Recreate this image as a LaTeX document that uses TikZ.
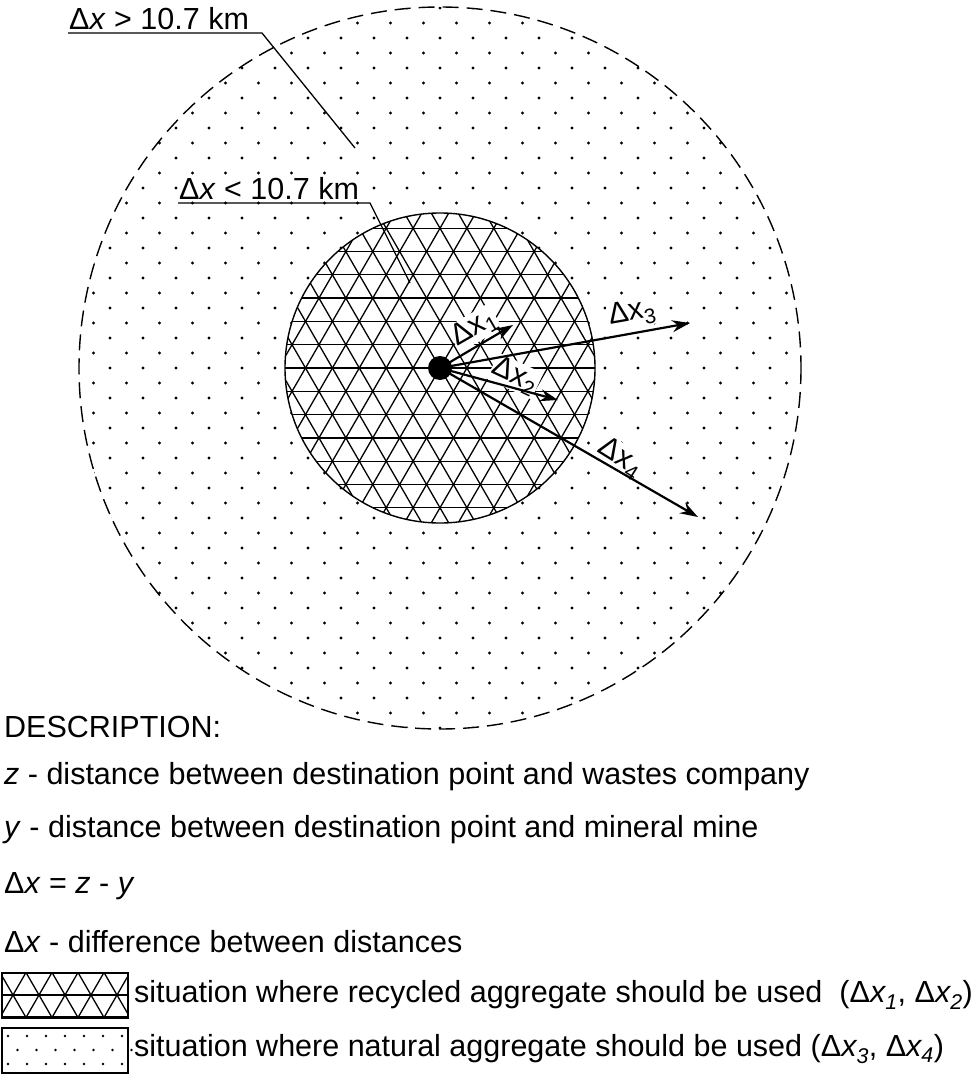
\documentclass[tikz,border=0pt]{standalone}
\usepackage{fontspec}
\setmainfont{Liberation Sans}
\usetikzlibrary{arrows.meta,calc}
\tikzset{
 lbl/.style={font=\fontsize{30.5}{34}\selectfont, inner sep=1pt},
 albl/.style={font=\fontsize{30}{34}\selectfont, inner sep=1pt},
 arr/.style={line width=2.2pt, -{Stealth[length=18pt,width=12pt,inset=6pt]}},
 hatchln/.style={line width=1.3pt},
 leader/.style={line width=1.3pt},
}
\begin{document}
\begin{tikzpicture}[x=1pt,y=-1pt]
\useasboundingbox (0,0) rectangle (972,1075);
% dots in outer circle
\begin{scope}
 \clip (440,368) circle (361);
 \foreach \r in {-24,...,24}{
  \pgfmathsetmacro{\off}{mod(abs(\r),2)*16.5}
  \foreach \c in {-12,...,12}{
   \fill (440+\c*33+\off,368+\r*15) circle (1.6);}}
\end{scope}
\draw[line width=1.4pt, dash pattern=on 16pt off 8pt] (440,368) circle (361);
% inner hatched circle
\fill[white] (440,368) circle (155);
\begin{scope}
 \clip (440,368) circle (155);
 \foreach \k in {-8,...,8}{\draw[hatchln] (280,368+\k*23.3) -- (600,368+\k*23.3);}
 \foreach \k in {-14,...,14}{
   \draw[hatchln] ($(440+\k*26.9,368)+(60:-220)$) -- ($(440+\k*26.9,368)+(60:220)$);
   \draw[hatchln] ($(440+\k*26.9,368)+(120:-220)$) -- ($(440+\k*26.9,368)+(120:220)$);}
\end{scope}
\draw[line width=1.4pt] (440,368) circle (155);
% leaders
\node[lbl, anchor=south west] (l1) at (68,31) {Δ\textit{x} > 10.7 km};
\draw[leader] (68,33) -- (262,33) -- (355,148);
\node[lbl, fill=white, anchor=south west] (l2) at (178,201) {Δ\textit{x} < 10.7 km};
\draw[leader] (178,203) -- (370,203) -- (410,283);
% arrows
\node[albl, fill=white, rotate=30] (a1) at (474,328) {Δx\textsubscript{1}};
\node[albl, fill=white, rotate=-25] (a2) at (515,376) {Δx\textsubscript{2}};
\node[albl, fill=white, rotate=10] (a3) at (632,313) {Δx\textsubscript{3}};
\node[albl, fill=white, rotate=-32] (a4) at (620,458) {Δx\textsubscript{4}};
\node[circle, fill=black, minimum size=24pt, inner sep=0] (c) at (440,368) {};
\coordinate (t1) at (513,325);
\coordinate (t2) at (558,400);
\coordinate (t3) at (690,323);
\coordinate (t4) at (698,517);
\draw[arr] (c.center) -- (t1);
\draw[arr] (c.center) -- (t2);
\draw[arr] (c.center) -- (t3);
\draw[arr] (c.center) -- (t4);
% description
\node[lbl, anchor=west] (d0) at (3,727) {DESCRIPTION:};
\node[lbl, anchor=west] (d1) at (3,777) {\textit{z} - distance between destination point and wastes company};
\node[lbl, anchor=west] (d2) at (3,830) {\textit{y} - distance between destination point and mineral mine};
\node[lbl, anchor=west] (d3) at (3,886) {Δ\textit{x} = \textit{z} - \textit{y}};
\node[lbl, anchor=west] (d4) at (3,942) {Δ\textit{x} - difference between distances};
% legend boxes
\begin{scope}
 \clip (2,973) rectangle (128,1018);
 \foreach \k in {-3,...,3}{\draw[hatchln] (0,995+\k*22) -- (130,995+\k*22);}
 \foreach \k in {-8,...,8}{
  \draw[hatchln] ($(65+\k*26,995)+(60:-60)$) -- ($(65+\k*26,995)+(60:60)$);
  \draw[hatchln] ($(65+\k*26,995)+(120:-60)$) -- ($(65+\k*26,995)+(120:60)$);}
\end{scope}
\draw[line width=1.4pt] (2,973) rectangle (128,1018);
\draw[line width=1.4pt] (2,1028) rectangle (128,1073);
\foreach \r in {0,1,2}{
 \pgfmathsetmacro{\loff}{mod(\r,2)*9.5}
 \foreach \c in {0,...,6}{
  \fill (8+\c*19+\loff,1036+\r*14) circle (1.4);}}
\node[lbl, anchor=west] (e1) at (133,995) {situation where recycled aggregate should be used\ \ (Δ\textit{x\textsubscript{1}}, Δ\textit{x\textsubscript{2}})};
\node[lbl, anchor=west] (e2) at (133,1049) {situation where natural aggregate should be used (Δ\textit{x\textsubscript{3}}, Δ\textit{x\textsubscript{4}})};
\end{tikzpicture}
\end{document}
